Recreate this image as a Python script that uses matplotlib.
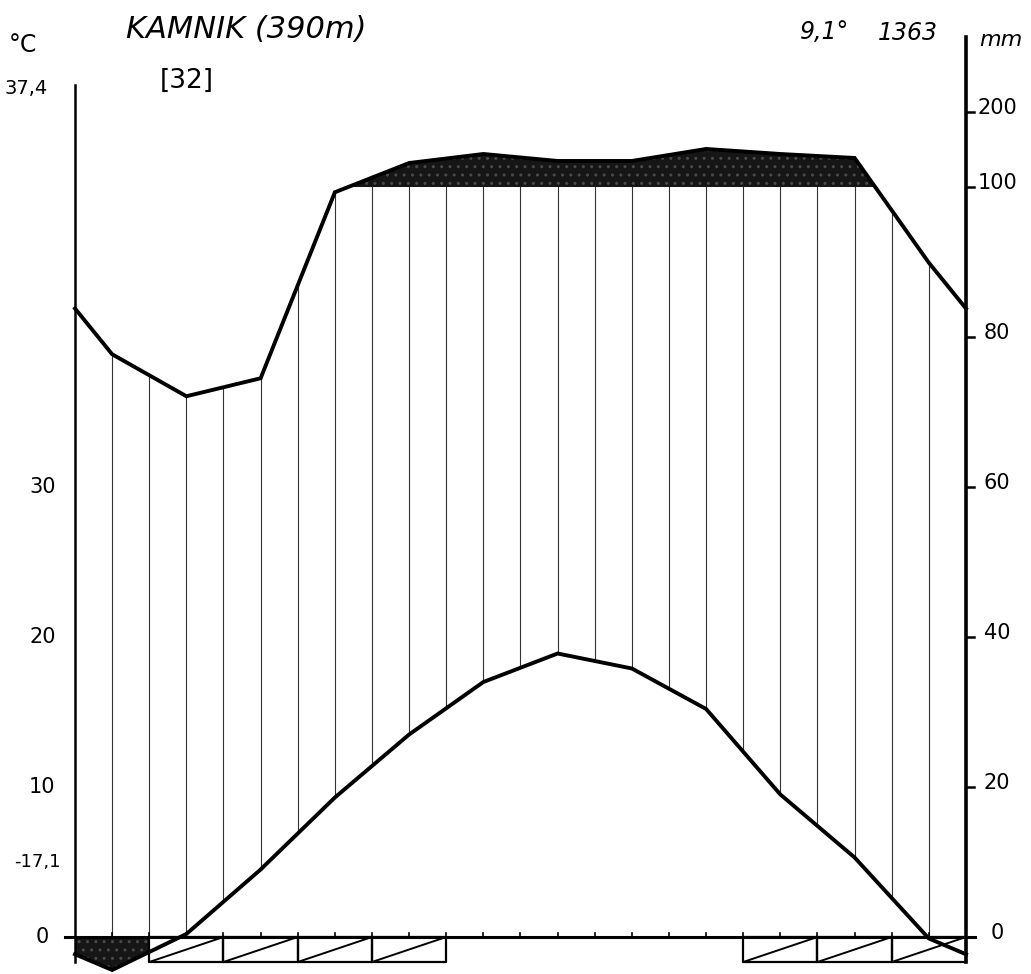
import numpy as np
import matplotlib.pyplot as plt

# Walter-Lieth climate diagram, Kamnik (390 m)
station = "KAMNIK (390m)"
station_years = "[32]"
mean_temp_label = "9,1°"
total_prec_label = "1363"
abs_max_label = "37,4"
abs_min_label = "-17,1"

months = np.arange(12) + 0.5
temp = [-2.2, 0.2, 4.5, 9.3, 13.5, 17.0, 18.9, 17.9, 15.2, 9.5, 5.3, -0.1]
prec = [77.7, 72.1, 74.5, 99.3, 132, 144, 134.7, 134.7, 150.7, 144, 138.7, 89.9]

# months with mean daily minimum < 0 (black) and absolute minimum < 0 (hatched)
frost_black = [0]
frost_hatched = [1, 2, 3, 4, 9, 10, 11]

temp_ticks = [0, 10, 20, 30]
prec_ticks = [0, 20, 40, 60, 80, 100, 200]


def prec_scale(p):
    # 20 mm = 10 degC below 100 mm, reduced 1:10 above
    p = np.asarray(p, dtype=float)
    return np.where(p <= 100, p / 2.0, 50 + (p - 100) / 20.0)


fig = plt.figure(figsize=(10.31, 9.74), dpi=100)
ax = fig.add_axes([0, 0, 1, 1])
ax.set_xlim(-75 / 74.25, (1031 - 75) / 74.25)
ax.set_ylim(-37 / 15, 937 / 15)
ax.axis("off")

# curves wrap round to the diagram edges
t_edge = (temp[0] + temp[-1]) / 2
p_edge = (prec[0] + prec[-1]) / 2
xc = np.concatenate([[0], months, [12]])
tc = np.array([t_edge] + temp + [t_edge])
pc = prec_scale([p_edge] + prec + [p_edge])

xf = np.linspace(0, 12, 2401)
tf = np.interp(xf, xc, tc)
pf = np.interp(xf, xc, pc)

# humid months above 100 mm: black
ax.fill_between(xf, 50, pf, where=pf > 50, interpolate=True,
                facecolor="#161616", edgecolor="#4a4a4a", hatch="..",
                linewidth=0, zorder=2)

# humid period: vertical hatching every half month
for x in np.arange(0.5, 12, 0.5):
    lo = max(np.interp(x, xc, tc), 0)
    hi = min(np.interp(x, xc, pc), 50)
    if hi > lo:
        ax.plot([x, x], [lo, hi], color="#333333", lw=0.8, zorder=1)

# frost boxes under the zero line
box = 25 / 15
for m in frost_black:
    xs = np.linspace(m, m + 1, 50)
    ys = np.minimum(np.interp(xs, xc, tc), 0)
    ax.fill_between(xs, 0, ys, facecolor="#161616", edgecolor="#4a4a4a",
                    hatch="..", linewidth=0, zorder=2)
for m in frost_hatched:
    ax.plot([m, m + 1, m + 1, m, m], [0, 0, -box, -box, 0],
            color="black", lw=1.6, zorder=3)
    ax.plot([m, m + 1], [-box, 0], color="black", lw=1.4, zorder=3)

# temperature and precipitation curves
ax.plot(xc, tc, color="black", lw=2.8, zorder=4, solid_joinstyle="miter")
ax.plot(xc, pc, color="black", lw=2.8, zorder=4, solid_joinstyle="miter")

# axes drawn by hand
ax.plot([-0.13, 12.12], [0, 0], color="black", lw=2.2, zorder=5)
ax.plot([0, 0], [-box, 56.8], color="black", lw=1.8, zorder=5)
ax.plot([12, 12], [-box, 60], color="black", lw=2.6, zorder=5)
for x in np.arange(0.5, 12, 0.5):
    ax.plot([x, x], [0, 0.3], color="black", lw=1.2, zorder=5)

fs = 15
for t in temp_ticks:
    ax.text(-0.44, t, str(t), ha="center", va="center", fontsize=fs)
for p in prec_ticks:
    y = float(prec_scale(p))
    ax.plot([12, 12.11], [y, y], color="black", lw=1.8, zorder=5)
    ax.text(12.42, y + 0.25, str(p), ha="center", va="center", fontsize=fs)

ax.text(-0.51, 5.0, abs_min_label, ha="center", va="center", fontsize=13)
ax.text(-0.66, 56.6, abs_max_label, ha="center", va="center", fontsize=14)
ax.text(-0.7, 59.5, "°C", ha="center", va="center", fontsize=17)
ax.text(12.47, 59.8, "mm", ha="center", va="center", fontsize=16,
        fontstyle="italic")

ax.text(2.31, 60.5, station, ha="center", va="center", fontsize=22,
        fontstyle="italic")
ax.text(1.51, 57.1, station_years, ha="center", va="center", fontsize=19)
ax.text(10.1, 60.3, mean_temp_label, ha="center", va="center", fontsize=17,
        fontstyle="italic")
ax.text(11.22, 60.3, total_prec_label, ha="center", va="center", fontsize=17,
        fontstyle="italic")

fig.savefig("out.png", dpi=100, facecolor="white")
